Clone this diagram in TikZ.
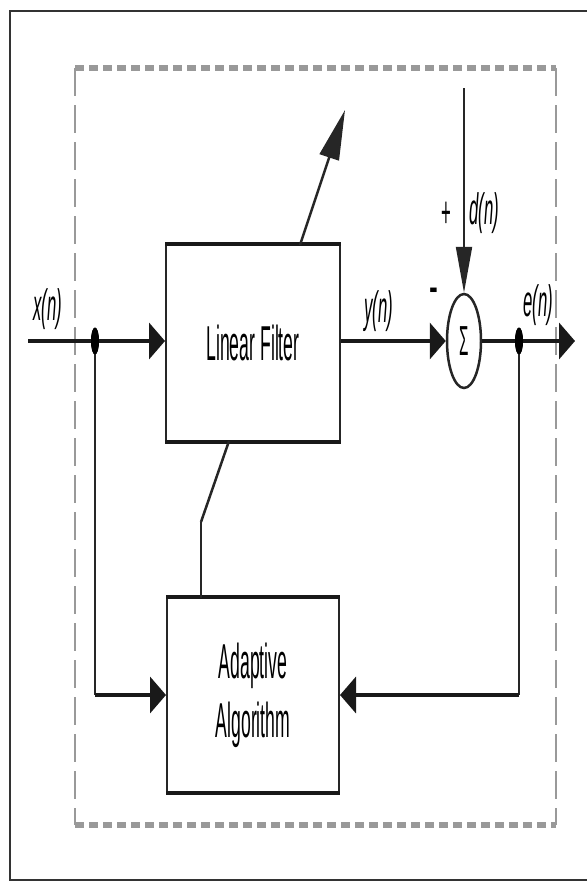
\documentclass[tikz,border=0pt]{standalone}
\usepackage{fontspec}
\usepackage{graphicx}
\setmainfont{Liberation Sans}
\usetikzlibrary{arrows.meta,shapes.geometric,calc}
\newcommand\sqz[1]{\scalebox{0.36}[1]{#1}}
\newcommand\sql[1]{\scalebox{0.38}[1]{#1}}
\begin{document}
\begin{tikzpicture}[x=1pt,y=-1pt,
  hl/.style={line width=4.5pt, draw=black!90},
  vl/.style={line width=2pt, draw=black!85},
  sl/.style={line width=2.5pt, draw=black!85},
  harrow/.style={-{Triangle[length=16pt,width=36pt]}},
  varrow/.style={-{Triangle[length=46pt,width=16pt]}},
  uarrow/.style={-{Triangle[length=50pt,width=20pt]}},
  blk/.style={draw=black!85, line width=2pt, inner sep=0pt,
    font=\fontsize{49}{59}\selectfont, align=center},
  lbl/.style={inner sep=0pt, font=\fontsize{44}{50}\selectfont\itshape},
  sgn/.style={inner sep=0pt, font=\fontsize{44}{50}\selectfont},
  dot/.style={ellipse, fill=black, minimum width=8pt, minimum height=27pt, inner sep=0pt},
  dashh/.style={line width=6.5pt, draw=black!40, dash pattern=on 9pt off 5pt},
  dashv/.style={line width=2.5pt, draw=black!40, dash pattern=on 28pt off 9pt}]
\useasboundingbox (0,0) rectangle (586,883);
% outer frame
\draw[line width=2.5pt, draw=black!80] (10,11) rectangle (596,880);
% dashed enclosure
\draw[dashh] (75,68) -- (556,68);
\draw[dashh] (75,825) -- (556,825);
\draw[dashv] (75,68) -- (75,825);
\draw[dashv] (556,68) -- (556,825);
% blocks
\node[blk, minimum width=174pt, minimum height=196pt] (LF) at (253,343) {\sqz{Linear Filter}};
\node[blk, minimum width=172pt, minimum height=194pt] (AA) at (253,695) {\sqz{Adaptive}\\\sqz{Algorithm}};
\draw[hl] (LF.north west) -- (LF.north east);
\draw[hl] (LF.south west) -- (LF.south east);
\draw[hl] (AA.north west) -- (AA.north east);
\draw[hl] (AA.south west) -- (AA.south east);
% summing junction
\node[ellipse, draw=black!85, line width=2.5pt, minimum width=34pt, minimum height=94pt, inner sep=0pt,
  font=\fontsize{42}{42}\selectfont] (sum) at (464,341) {\scalebox{0.36}[1]{Σ}};
% points
\coordinate (xin) at (28,341);
\coordinate (out) at (575,341);
\coordinate (dtop) at (464,88);
\coordinate (ltop) at (300,245);
\coordinate (uptip) at (345,110);
\coordinate (lbot) at (229,441);
\coordinate (bend) at (201,522);
\coordinate (atop) at (201,598);
\node[dot] (dx) at (95,341) {};
\node[dot] (de) at (519,341) {};
\coordinate (xl) at (dx |- AA.west);
\coordinate (er) at (de |- AA.east);
% connectors
\draw[hl] (xin) -- (dx.center);
\draw[hl, harrow] (dx.center) -- (LF.west |- dx);
\draw[hl, harrow] (LF.east |- dx) -- (sum.west);
\draw[hl] (sum.east) -- (de.center);
\draw[hl, harrow] (de.center) -- (out);
\draw[vl] (dx.center) -- (xl);
\draw[hl, harrow] (xl) -- (AA.west);
\draw[vl] (de.center) -- (er);
\draw[hl, harrow] (er) -- (AA.east);
\draw[vl, varrow] (dtop) -- (sum.north);
\draw[sl, uarrow] (ltop) -- (uptip);
\draw[sl] (lbot) -- (bend);
\draw[vl] (bend) -- (atop);
% redraw dots on top
\node[dot] at (dx) {};
\node[dot] at (de) {};
% labels
\node[lbl] (lx) at (48,309) {\sql{x(n)}};
\node[lbl] (ly) at (379,311) {\sql{y(n)}};
\node[lbl] (le) at (538,305) {\sql{e(n)}};
\node[lbl] (ld) at (484,213) {\sql{d(n)}};
\node[sgn] (lp) at (446,215) {\sql{+}};
\node[sgn] (lm) at (434,297) {\scalebox{0.6}[1.3]{-}};
\end{tikzpicture}
\end{document}
